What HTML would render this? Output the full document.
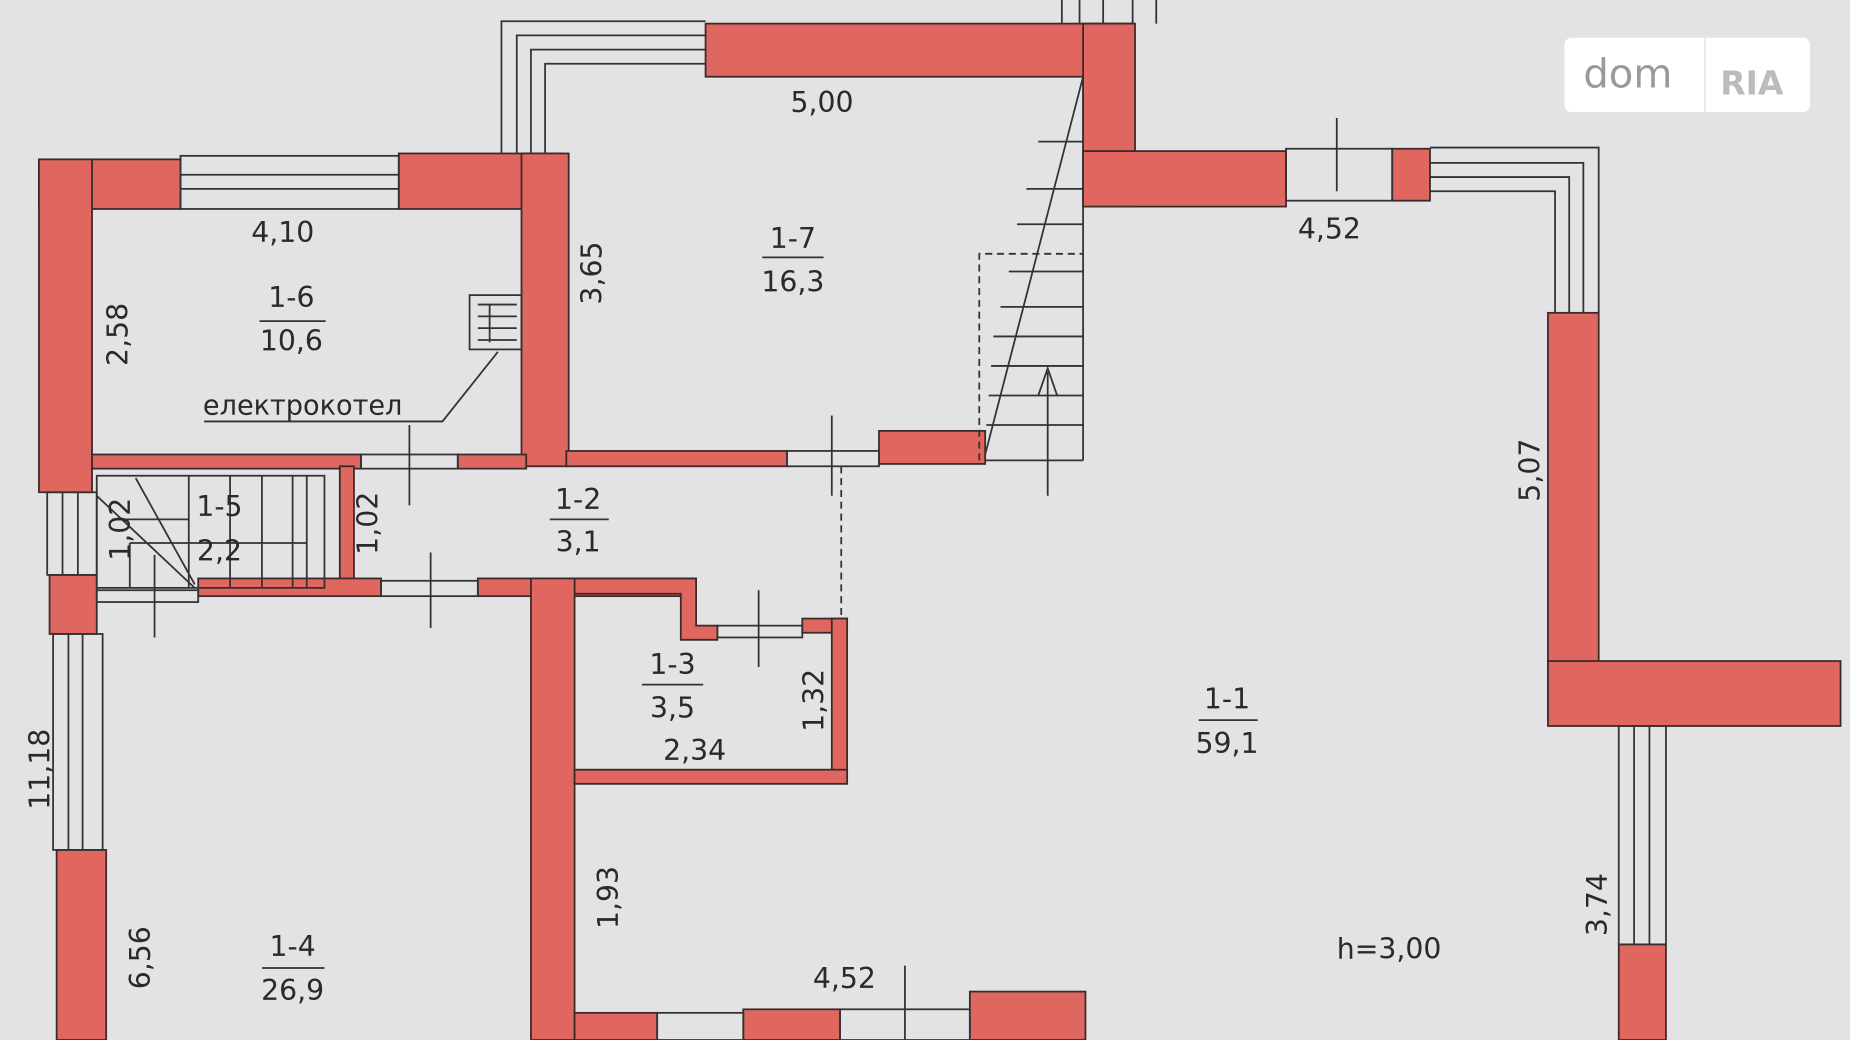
<!DOCTYPE html>
<html><head><meta charset="utf-8"><style>
html,body{margin:0;padding:0;background:#e3e3e5;overflow:hidden}
svg{display:block}
text{font-family:"DejaVu Sans","Liberation Sans",sans-serif;fill:#2a2a2a}
</style></head><body>
<svg width="1850" height="1040" viewBox="0 0 1568 881" preserveAspectRatio="none" xmlns="http://www.w3.org/2000/svg">
<rect width="1568" height="881" fill="#e3e3e5"/>
<g fill="#e0675f" stroke="#3a2a2a" stroke-width="1.5">
<rect x="33" y="135" width="120" height="42"/>
<rect x="338" y="130" width="137" height="47"/>
<rect x="33" y="135" width="45" height="282"/>
<rect x="442" y="130" width="40" height="265"/>
<rect x="598" y="20" width="362" height="45"/>
<rect x="918" y="20" width="44" height="155"/>
<rect x="918" y="128" width="172" height="47"/>
<rect x="1180" y="126" width="32" height="44"/>
<rect x="1312" y="265" width="43" height="345"/>
<rect x="1312" y="560" width="248" height="55"/>
<rect x="1372" y="800" width="40" height="81"/>
<rect x="78" y="385" width="228" height="12"/>
<rect x="388" y="385" width="58" height="12"/>
<rect x="480" y="382" width="187" height="13"/>
<rect x="745" y="365" width="90" height="28"/>
<rect x="288" y="395" width="12" height="100"/>
<rect x="168" y="490" width="155" height="15"/>
<rect x="405" y="490" width="185" height="15"/>
<rect x="42" y="487" width="40" height="50"/>
<path d="M487 490 H590 V530 H608 V542 H577 V503 H487Z"/>
<rect x="450" y="490" width="37" height="391"/>
<rect x="680" y="524" width="38" height="12"/>
<rect x="705" y="524" width="13" height="138"/>
<rect x="487" y="652" width="231" height="12"/>
<rect x="48" y="720" width="42" height="161"/>
<rect x="487" y="858" width="70" height="23"/>
<rect x="630" y="855" width="82" height="26"/>
<rect x="822" y="840" width="98" height="41"/>
</g>
<g fill="none" stroke="#333" stroke-width="1.5">
<rect x="153" y="132" width="185" height="45"/><line x1="153" y1="148" x2="338" y2="148"/><line x1="153" y1="160" x2="338" y2="160"/>
<path d="M425 130 V18 H598 M438 130 V30 H598 M450 130 V42 H598 M462 130 V54 H598"/>
<path d="M900 0 V20 M915 0 V20 M935 0 V20 M960 0 V20 M980 0 V20"/>
<rect x="1090" y="126" width="90" height="44"/>
<path d="M1212 125 H1355 V265 M1212 138 H1342 V265 M1212 150 H1330 V265 M1212 162 H1318 V265"/>
<rect x="1372" y="615" width="40" height="185"/><line x1="1385" y1="615" x2="1385" y2="800"/><line x1="1398" y1="615" x2="1398" y2="800"/>
<rect x="45" y="537" width="42" height="183"/><line x1="58" y1="537" x2="58" y2="720"/><line x1="70" y1="537" x2="70" y2="720"/>
<rect x="40" y="417" width="42" height="70"/><line x1="53" y1="417" x2="53" y2="487"/><line x1="66" y1="417" x2="66" y2="487"/>
<rect x="306" y="385" width="82" height="12"/><rect x="667" y="382" width="78" height="13"/>
<rect x="323" y="492" width="82" height="13"/><rect x="608" y="530" width="72" height="10"/>
<rect x="82" y="500" width="86" height="10"/>
<rect x="557" y="858" width="73" height="23"/><rect x="712" y="855" width="110" height="26"/>
<rect x="82" y="403" width="193" height="95"/>
<path d="M160 403 V498 M195 403 V498 M222 403 V498 M248 403 V498 M260 403 V498 M110 460 H260 M110 460 L110 498 M95 440 H160 M82 420 L165 498 M115 405 L165 495"/>
<path d="M835 385 L918 65 M918 65 V390 M835 390 H918 M880 120 H918 M870 160 H918 M862 190 H918 M855 230 H918 M848 260 H918 M842 285 H918 M840 310 H918 M838 335 H918 M836 360 H918"/>
<path d="M830 390 V215 H918" stroke-dasharray="6,4"/>
<path d="M713 395 V525" stroke-dasharray="6,4"/>
<line x1="888" y1="315" x2="888" y2="420"/><path d="M880 335 L888 312 L896 335"/>
<path d="M347 360 V428 M705 352 V420 M131 470 V540 M365 468 V532 M643 500 V565 M767 818 V881 M1133 100 V162"/>
<rect x="398" y="250" width="44" height="46"/><path d="M405 258 H438 M405 268 H438 M405 278 H438 M405 288 H438 M415 258 V290"/>
<path d="M173 357 H375 L422 298"/>
</g>
<g font-size="24">
<text x="670" y="95">5,00</text>
<text x="213" y="205">4,10</text>
<text x="1100" y="202">4,52</text>
<text x="689" y="837">4,52</text>
<text x="562" y="644">2,34</text>
<text x="1133" y="812">h=3,00</text>
<text x="172" y="351" font-size="23">електрокотел</text>
<g text-anchor="middle">
<text x="247" y="260" fill="#b04040">1-6</text><text x="247" y="297">10,6</text>
<text x="672" y="210">1-7</text><text x="672" y="247">16,3</text>
<text x="490" y="431" fill="#b04040">1-2</text><text x="490" y="467">3,1</text>
<text x="570" y="571" fill="#b04040">1-3</text><text x="570" y="608">3,5</text>
<text x="1040" y="600">1-1</text><text x="1040" y="638">59,1</text>
<text x="248" y="810" fill="#b04040">1-4</text><text x="248" y="847">26,9</text>
<text x="186" y="437" fill="#b04040">1-5</text><text x="186" y="475">2,2</text>
</g>
<path d="M220 272 H276 M646 218 H698 M466 440 H516 M544 580 H596 M1016 610 H1066 M222 820 H275" stroke="#333" stroke-width="1.5"/>
<text transform="translate(108,310) rotate(-90)">2,58</text>
<text transform="translate(510,258) rotate(-90)">3,65</text>
<text transform="translate(1305,425) rotate(-90)">5,07</text>
<text transform="translate(110,475) rotate(-90)">1,02</text>
<text transform="translate(320,470) rotate(-90)">1,02</text>
<text transform="translate(698,620) rotate(-90)">1,32</text>
<text transform="translate(42,686) rotate(-90)">11,18</text>
<text transform="translate(524,787) rotate(-90)">1,93</text>
<text transform="translate(127,838) rotate(-90)">6,56</text>
<text transform="translate(1362,793) rotate(-90)">3,74</text>
</g>
<rect x="1326" y="32" width="208" height="63" rx="6" fill="#fff"/>
<line x1="1445" y1="32" x2="1445" y2="95" stroke="#ddd"/>
<text x="1342" y="74" font-size="34" style="fill:#9a9a9a">dom</text>
<text x="1458" y="80" font-size="28" font-family="Liberation Serif,serif" style="fill:#bbb;font-weight:bold">RIA</text>
</svg>
</body></html>
